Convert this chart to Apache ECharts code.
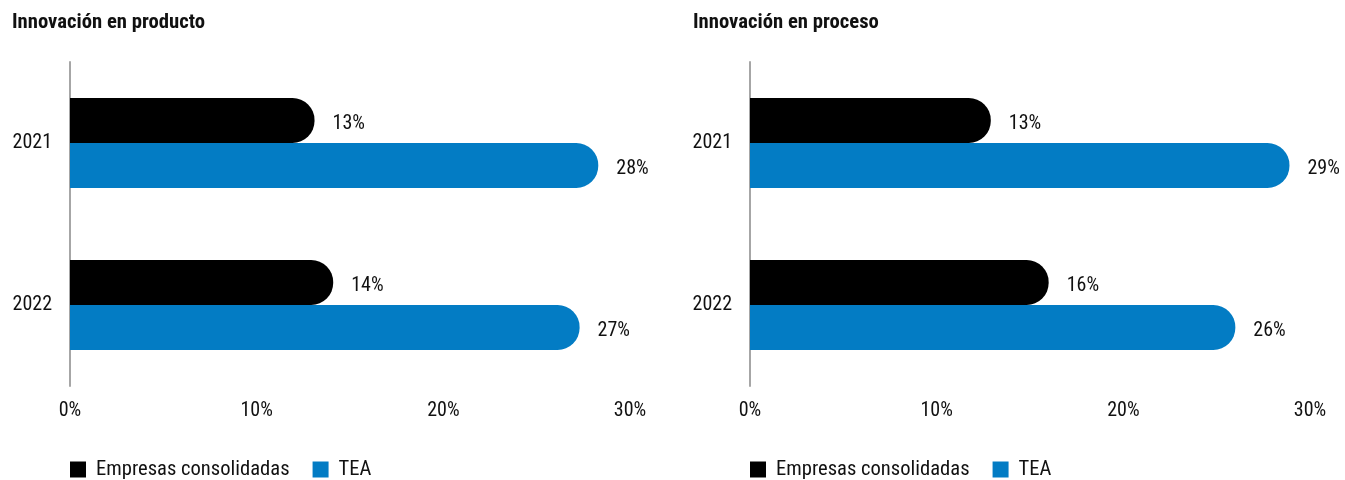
<!DOCTYPE html>
<html><head><meta charset="utf-8">
<script src="https://cdn.jsdelivr.net/npm/echarts@6/dist/echarts.min.js"></script>
<style>html,body{margin:0;padding:0;background:#fff}#c{width:1345px;height:480px}</style>
</head><body><div id="c"></div>
<script>
const years = ['2021', '2022'];
const xTicks = [0, 10, 20, 30];
const productoConsolidadas = [13.1, 14.1];
const productoTEA = [28.3, 27.3];
const procesoConsolidadas = [12.9, 16.0];
const procesoTEA = [28.9, 26.0];
const titles = ['Innovación en producto', 'Innovación en proceso'];
const seriesNames = ['Empresas consolidadas', 'TEA'];

const FONT = '"Roboto Condensed", "Liberation Sans Narrow", "Roboto", sans-serif';
const BLACK = '#000000', BLUE = '#037CC4';
const chart = echarts.init(document.getElementById('c'));
const lefts = [70, 750];
function grid(i){ return {left: lefts[i], width: 560, top: 62, height: 324}; }
function xAxis(i){ return {gridIndex: i, type: 'value', min: 0, max: 30, interval: 10,
  axisLine:{show:false}, axisTick:{show:false}, splitLine:{show:false},
  axisLabel:{margin:15, fontFamily: FONT, fontSize: 20, color:'#111', formatter: v => v + '%'}}; }
function yAxis(i){ return {gridIndex: i, type:'category', data: years, inverse: true,
  axisLine:{show:true, lineStyle:{color:'#A6A6A6', width:2}}, axisTick:{show:false},
  axisLabel:{margin:18, fontFamily: FONT, fontSize: 20, color:'#111'}}; }
function bar(i, name, data, color){
  return {type:'bar', name, xAxisIndex:i, yAxisIndex:i, data, barWidth: 45, barGap: '0%',
    itemStyle:{color, borderRadius:[0,22,22,0]},
    label:{show:true, position:'right', distance:18, offset:[0,3], fontFamily: FONT, fontSize: 20, color:'#111',
      formatter: p => Math.round(p.value) + '%'}};
}
chart.setOption({
  animation:false,
  title: titles.map((t,i)=>({text:t, left: i===0?7:688, top: 7,
    textStyle:{fontFamily: FONT, fontSize: 20.7, fontWeight:'bold', color:'#111'}})),
  legend: [0,1].map(i=>({left: lefts[i]-5, top: 454, itemWidth:16, itemHeight:16, itemGap:23,
    icon:'rect', data: seriesNames,
    textStyle:{fontFamily: FONT, fontSize: 20.6, color:'#111', padding:[0,0,0,5]}})),
  grid: [grid(0), grid(1)],
  xAxis: [xAxis(0), xAxis(1)],
  yAxis: [yAxis(0), yAxis(1)],
  series: [
    bar(0, seriesNames[0], productoConsolidadas, BLACK),
    bar(0, seriesNames[1], productoTEA, BLUE),
    bar(1, seriesNames[0], procesoConsolidadas, BLACK),
    bar(1, seriesNames[1], procesoTEA, BLUE)
  ]
});
</script></body></html>
